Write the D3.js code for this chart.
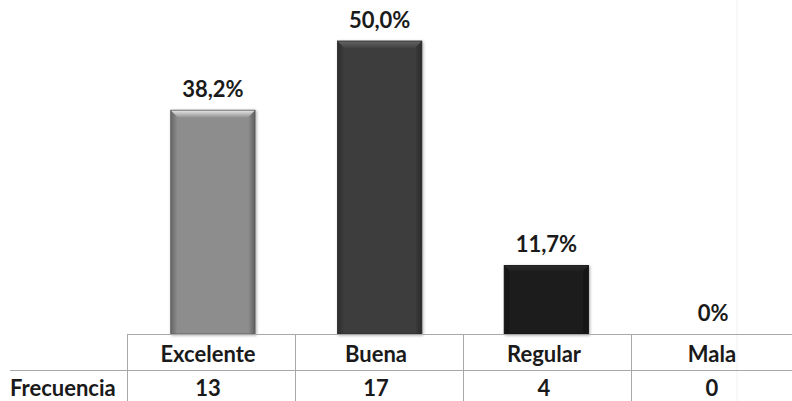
<!DOCTYPE html>
<html>
<head>
<meta charset="utf-8">
<script src="https://cdn.jsdelivr.net/npm/d3@7/dist/d3.min.js"></script>
<style>
  html, body { margin: 0; padding: 0; background: #fff; }
  svg { display: block; }
  text { font-family: Lato, "Open Sans", "Liberation Sans", sans-serif; font-weight: bold; fill: #1a1a1a; }
</style>
</head>
<body>
<svg id="chart" width="792" height="401"></svg>
<script>
const categories = ["Excelente", "Buena", "Regular", "Mala"];
const percentages = [38.2, 50.0, 11.7, 0];
const percentLabels = ["38,2%", "50,0%", "11,7%", "0%"];
const frequencies = [13, 17, 4, 0];
const rowLabel = "Frecuencia";
const barColors = ["#8d8d8d", "#3d3d3d", "#1b1b1b", "#1b1b1b"];

const W = 792, H = 401;
const svg = d3.select("#chart");

const tableLeft = 127, tableRight = 799;
const baseY = 334, rowMid = 370, bottomY = 401;
const fs = 22;

const x = d3.scaleBand().domain(categories).range([tableLeft, tableRight]).paddingInner(0.494).paddingOuter(0.262);
const xCol = d3.scaleBand().domain(categories).range([tableLeft, tableRight]);
const y = d3.scaleLinear().domain([0, 50]).range([baseY, 41]);

const defs = svg.append("defs");
const data = categories.map((c, i) => ({ c, p: percentages[i], lab: percentLabels[i], f: frequencies[i], col: barColors[i] }));

data.forEach((d, i) => {
  const base = d3.color(d.col);
  const g = defs.append("linearGradient").attr("id", "h" + i).attr("x1", 0).attr("x2", 1).attr("y1", 0).attr("y2", 0);
  g.append("stop").attr("offset", "0%").attr("stop-color", base.darker(0.9));
  g.append("stop").attr("offset", "8%").attr("stop-color", base);
  g.append("stop").attr("offset", "92%").attr("stop-color", base);
  g.append("stop").attr("offset", "100%").attr("stop-color", base.darker(1.1));
  const t = defs.append("linearGradient").attr("id", "t" + i).attr("x1", 0).attr("x2", 0).attr("y1", 0).attr("y2", 1);
  t.append("stop").attr("offset", "0%").attr("stop-color", base.brighter(1.4));
  t.append("stop").attr("offset", "100%").attr("stop-color", base.brighter(0.2));
});

const filt = defs.append("filter").attr("id", "shadow").attr("x", "-20%").attr("y", "-10%").attr("width", "140%").attr("height", "130%");
filt.append("feDropShadow").attr("dx", 1).attr("dy", 1).attr("stdDeviation", 1.5).attr("flood-color", "#000").attr("flood-opacity", 0.35);

// faint scan crease
svg.append("line").attr("x1", 737).attr("x2", 737).attr("y1", 0).attr("y2", H)
  .attr("stroke", "#f0f0f0").attr("stroke-width", 1);

// bars
const bars = svg.append("g");
data.filter(d => d.p > 0).forEach(d => {
  const i = categories.indexOf(d.c);
  const x0 = x(d.c), w = x.bandwidth(), y0 = y(d.p), h = baseY - y0;
  const gg = bars.append("g").attr("filter", "url(#shadow)");
  gg.append("rect").attr("x", x0).attr("y", y0).attr("width", w).attr("height", h).attr("fill", `url(#h${i})`);
  const bv = 7;
  gg.append("polygon")
    .attr("points", [[x0, y0], [x0 + w, y0], [x0 + w - bv, y0 + bv], [x0 + bv, y0 + bv]].map(p => p.join(",")).join(" "))
    .attr("fill", `url(#t${i})`);
  gg.append("rect").attr("x", x0).attr("y", y0).attr("width", w).attr("height", h)
    .attr("fill", "none").attr("stroke", d3.color(d.col).darker(1.2)).attr("stroke-width", 0.8);
});

// value labels
svg.append("g").selectAll("text").data(data).join("text")
  .attr("x", d => x(d.c) + x.bandwidth() / 2)
  .attr("y", d => y(d.p) - 13)
  .attr("text-anchor", "middle")
  .attr("font-size", fs)
  .text(d => d.lab);

// table grid
const grid = svg.append("g").attr("stroke", "#a8a8a8").attr("stroke-width", 1);
grid.append("line").attr("x1", tableLeft).attr("x2", W).attr("y1", baseY + 0.5).attr("y2", baseY + 0.5);
grid.append("line").attr("x1", 10).attr("x2", W).attr("y1", rowMid + 0.5).attr("y2", rowMid + 0.5);
categories.forEach(c => {
  const xx = Math.round(xCol(c)) + 0.5;
  grid.append("line").attr("x1", xx).attr("x2", xx).attr("y1", baseY).attr("y2", bottomY);
});

// table text
svg.append("g").selectAll("text").data(data).join("text")
  .attr("x", d => xCol(d.c) + xCol.bandwidth() / 2 - 3)
  .attr("y", 362)
  .attr("text-anchor", "middle")
  .attr("font-size", fs)
  .text(d => d.c);

svg.append("g").selectAll("text").data(data).join("text")
  .attr("x", d => xCol(d.c) + xCol.bandwidth() / 2 - 3)
  .attr("y", 396)
  .attr("text-anchor", "middle")
  .attr("font-size", fs)
  .text(d => d.f);

svg.append("text").attr("x", 10).attr("y", 396).attr("font-size", fs).text(rowLabel);
</script>
</body>
</html>
